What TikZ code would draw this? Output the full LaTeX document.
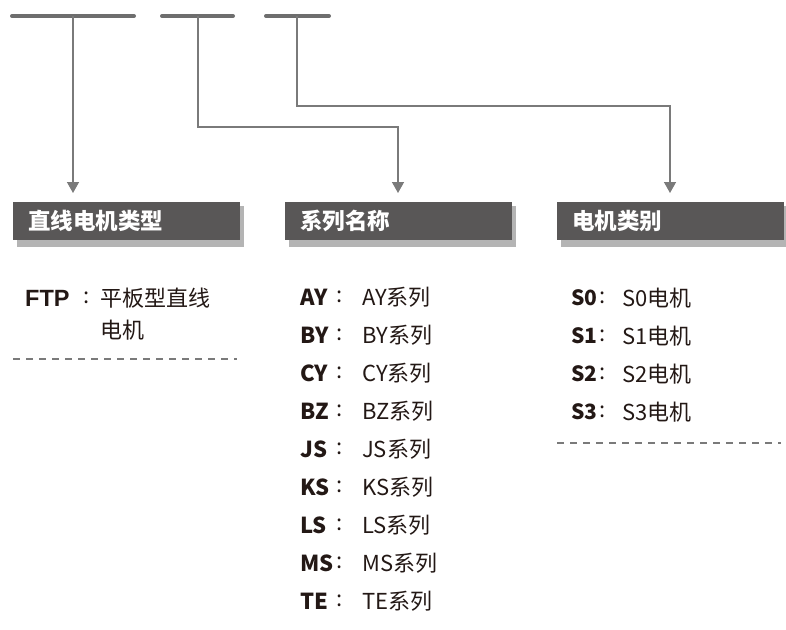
\documentclass[tikz,border=0pt]{standalone}
\usepackage{fontspec}
\setmainfont{Noto Sans CJK SC}
\newfontfamily\arialf{Liberation Sans}
\usetikzlibrary{arrows.meta}
\definecolor{hdr}{HTML}{595757}
\definecolor{shd}{HTML}{B4B4B4}
\definecolor{ln}{HTML}{7A7A7A}
\definecolor{txt}{HTML}{231815}
\tikzset{
  bar/.style={line width=4pt, line cap=round, color=ln!90!black},
  conn/.style={ln, line width=1.4pt, -{Triangle[width=12pt,length=11pt]}, shorten >=9pt},
  hdrbox/.style={fill=hdr, minimum width=227pt, minimum height=38pt, inner sep=0pt, anchor=north west},
  hdrtxt/.style={text=white, font=\bfseries\fontsize{22.5}{24}\selectfont, anchor=west, inner sep=0pt},
  lbl/.style={text=txt, font=\fontsize{22}{24}\selectfont, anchor=west, inner sep=0pt},
  colon/.style={text=txt, font=\fontsize{22}{24}\selectfont, anchor=center, inner sep=0pt},
  key/.style={text=txt, font=\bfseries\fontsize{22}{24}\selectfont, anchor=west, inner sep=0pt},
  skey/.style={text=txt, font=\bfseries\fontsize{21}{22}\selectfont, anchor=west, inner sep=0pt},
  fkey/.style={text=txt, font=\arialf\bfseries\fontsize{23.5}{24}\selectfont, anchor=west, inner sep=0pt},
  sep/.style={ln, line width=1.2pt, dash pattern=on 7pt off 6pt}
}
\begin{document}
\begin{tikzpicture}[x=1pt,y=-1pt]
\useasboundingbox (0,0) rectangle (786,629);
% top bars
\draw[bar] (12,16) -- (134,16);
\draw[bar] (162,16) -- (233,16);
\draw[bar] (266,16) -- (329,16);
\coordinate (b1) at (73,16);
\coordinate (b2) at (198,16);
\coordinate (b3) at (297,16);
% shadows
\fill[shd] (17,206) rectangle (244,247);
\fill[shd] (289,206) rectangle (516,247);
\fill[shd] (561,206) rectangle (788,247);
% headers
\node[hdrbox] (h1) at (13,202) {};
\node[hdrbox] (h2) at (285,202) {};
\node[hdrbox] (h3) at (557,202) {};
\node[hdrtxt] (t1) at (28,221) {直线电机类型};
\node[hdrtxt] (t2) at (300,221) {系列名称};
\node[hdrtxt] (t3) at (572,221) {电机类别};
% connectors
\coordinate (e1) at (73,202);
\coordinate (e2) at (398,202);
\coordinate (e3) at (670,202);
\draw[conn] (b1) -- (e1);
\draw[conn] (b2) |- (398,127) -- (e2);
\draw[conn] (b3) |- (670,106) -- (e3);
% left column
\node[fkey] (k1) at (25,298) {FTP};
\node[colon] (c1) at (87,298) {:};
\node[lbl] (v1) at (100,298) {平板型直线};
\node[lbl] (v1b) at (100,330) {电机};
\draw[sep] (13,359) -- (237,359);
% middle column
\foreach \k/\v/\y [count=\i] in {AY/AY系列/297, BY/BY系列/335, CY/CY系列/373, BZ/BZ系列/411, JS/JS系列/449, KS/KS系列/487, LS/LS系列/525, MS/MS系列/563, TE/TE系列/601}{
  \node[key] (mk\i) at (300,\y) {\k};
  \node[colon] (mc\i) at (340,\y) {:};
  \node[lbl] (mv\i) at (362,\y) {\v};
}
% right column
\foreach \k/\y [count=\i] in {S0/298, S1/336, S2/374, S3/412}{
  \node[skey] (rk\i) at (571,\y) {\k};
  \node[colon] (rc\i) at (603,\y) {:};
  \node[lbl] (rv\i) at (622,\y) {\k 电机};
}
\draw[sep] (557,443) -- (781,443);
\end{tikzpicture}
\end{document}
